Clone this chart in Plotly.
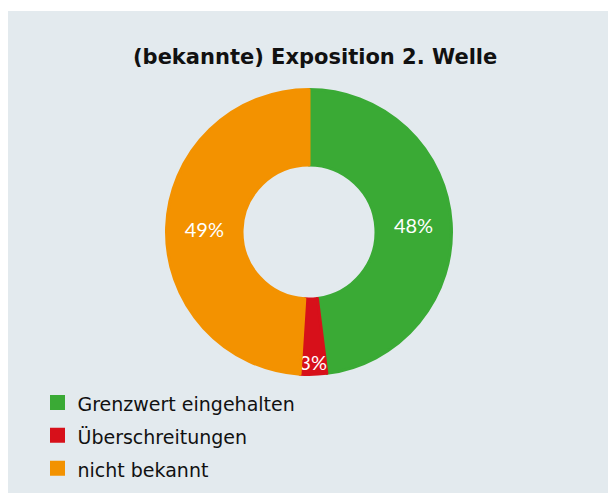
import plotly.graph_objects as go

# Data
labels = ["Grenzwert eingehalten", "Überschreitungen", "nicht bekannt"]
values = [48, 3, 49]
colors = ["#3aaa35", "#d7101a", "#f39200"]
title_text = "(bekannte) Exposition 2. Welle"

W, H = 608, 495
ML, MT, MR, MB = 8, 11, 0, 2
PW, PH = W - ML - MR, H - MT - MB

def px(x):
    return (x - ML) / PW

def py(y):
    return 1 - (y - MT) / PH

# legend text drawn smaller than the legend font (which sets row spacing)
legend_labels = ['<span style="font-size:19px">' + s + '</span>' for s in labels]

fig = go.Figure(go.Pie(
    labels=legend_labels,
    values=values,
    marker=dict(colors=colors, line=dict(width=3, color=colors)),
    hole=0.47,
    sort=False,
    direction="clockwise",
    rotation=0,
    textinfo="percent",
    textposition="inside",
    insidetextorientation="horizontal",
    textfont=dict(color="white", size=20, family="Lato"),
    domain=dict(x=[px(166.5), px(451.5)], y=[py(374.5), py(89.5)]),
    hoverinfo="label+percent",
))

fig.update_layout(
    width=W, height=H,
    margin=dict(l=ML, r=MR, t=MT, b=MB, pad=0),
    paper_bgcolor="white",
    font=dict(family="DejaVu Sans", color="#111111"),
    uniformtext=dict(minsize=20, mode="show"),
    shapes=[dict(type="rect", xref="paper", yref="paper", x0=0, x1=1, y0=0, y1=1,
                 fillcolor="#e3eaee", line=dict(width=0), layer="below")],
    annotations=[dict(text="<b>" + title_text + "</b>", xref="paper", yref="paper",
                      x=px(315), y=py(57), xanchor="center", yanchor="middle",
                      showarrow=False, font=dict(size=21, color="#111111", family="DejaVu Sans"))],
    legend=dict(
        x=px(37.5), y=py(381), xanchor="left", yanchor="top",
        font=dict(size=23, color="#111111", family="DejaVu Sans"),
        bgcolor="rgba(0,0,0,0)",
        itemclick=False,
    ),
)

fig.write_html("out.html", config={"displayModeBar": False},
               post_script="document.body.style.margin='0';")
